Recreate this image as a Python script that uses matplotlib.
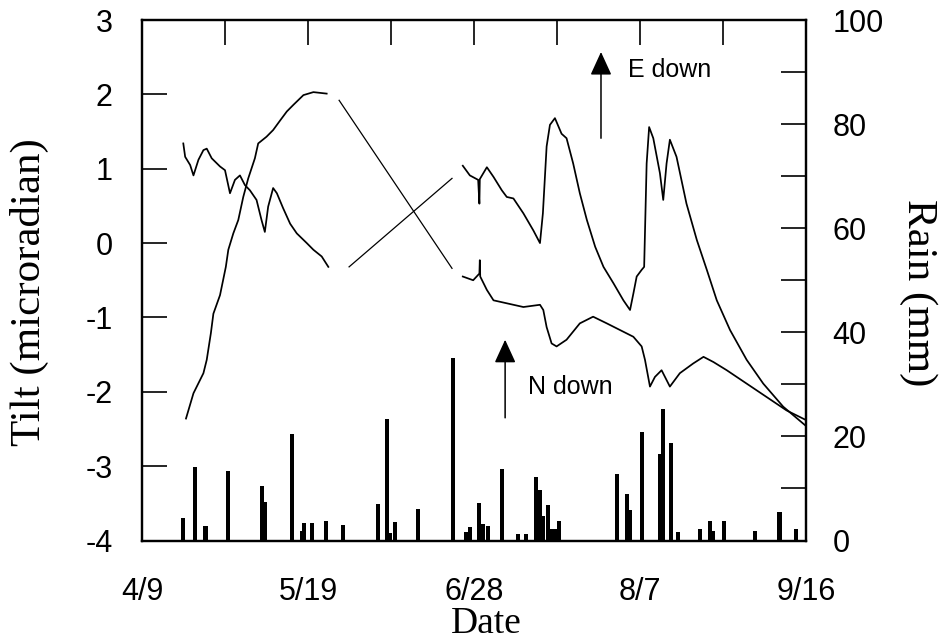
import matplotlib.pyplot as plt

plt.rcParams["axes.unicode_minus"] = False

# Tage seit 4/9, Tilt in microradian
e_day_1 = [9.95, 10.4, 11.6, 12.4, 13.6, 14.8, 15.6, 16.8, 18.8, 20.0, 21.2,
           22.4, 23.6, 24.8, 26.0, 27.6, 28.8, 29.6, 30.4, 31.6, 32.5, 34.0,
           35.7, 37.3, 39.7, 41.3, 43.3, 44.9]
e_tilt_1 = [1.34, 1.16, 1.05, 0.91, 1.12, 1.25, 1.27, 1.14, 1.03, 0.98, 0.67,
            0.85, 0.91, 0.78, 0.71, 0.58, 0.31, 0.15, 0.49, 0.74, 0.67, 0.47,
            0.26, 0.13, 0.0, -0.09, -0.18, -0.32]

e_day_2 = [77.3, 79.0, 81.0, 81.3, 81.4, 83.1, 84.7, 86.7, 87.9, 89.5, 91.9,
           94.3, 95.9, 96.6, 97.5, 98.3, 99.5, 101.1, 102.3, 103.9, 105.5,
           107.2, 109.2, 111.2, 113.6, 116.0, 117.6, 118.4, 119.2, 120.4,
           121.0, 121.6, 122.2, 123.2, 124.8, 125.6, 126.4, 127.2, 128.8,
           131.2, 133.7, 136.1, 138.5, 141.7, 145.7, 149.7, 154.5, 160.0]
e_tilt_2 = [1.04, 0.91, 0.85, 0.53, 0.86, 1.02, 0.89, 0.71, 0.62, 0.60, 0.40,
            0.17, 0.0, 0.40, 1.30, 1.59, 1.68, 1.47, 1.41, 1.07, 0.67,
            0.31, -0.05, -0.32, -0.54, -0.77, -0.90, -0.68, -0.45, -0.36,
            -0.32, 1.07, 1.56, 1.41, 0.94, 0.58, 1.07, 1.39, 1.16,
            0.53, 0.04, -0.36, -0.77, -1.17, -1.57, -1.89, -2.20, -2.46]

n_day_1 = [10.6, 12.4, 14.8, 15.6, 16.6, 17.2, 18.8, 20.2, 20.8, 22.0, 23.2,
           24.4, 25.6, 27.2, 28.0, 30.0, 31.6, 33.3, 34.9, 36.5, 38.9, 41.3,
           44.5]
n_tilt_1 = [-2.36, -2.02, -1.75, -1.57, -1.21, -0.95, -0.70, -0.32, -0.09,
            0.13, 0.31, 0.62, 0.87, 1.14, 1.34, 1.43, 1.52, 1.65, 1.77, 1.86,
            1.99, 2.03, 2.01]

n_day_2 = [77.3, 79.8, 81.3, 81.4, 81.5, 83.1, 84.7, 87.9, 91.9, 95.9, 96.7,
           97.5, 98.7, 99.9, 102.3, 105.5, 108.7, 112.0, 115.2, 118.4, 120.4,
           121.2, 122.4, 123.6, 125.2, 127.2, 129.6, 132.8, 135.3, 137.7,
           140.9, 145.7, 150.5, 155.3, 160.0]
n_tilt_2 = [-0.45, -0.50, -0.41, -0.23, -0.45, -0.63, -0.77, -0.81, -0.86,
            -0.83, -0.90, -1.13, -1.35, -1.39, -1.30, -1.08, -0.99, -1.08,
            -1.17, -1.26, -1.39, -1.57, -1.93, -1.80, -1.71, -1.93, -1.75,
            -1.62, -1.53, -1.60, -1.71, -1.89, -2.07, -2.25, -2.38]

# Verbindungslinien ueber die Datenluecke
bridge_e_day = [49.9, 74.7]
bridge_e_tilt = [-0.32, 0.87]
bridge_n_day = [47.5, 74.7]
bridge_n_tilt = [1.92, -0.34]

# Niederschlag (mm)
rain_day = [9.8, 12.7, 15.3, 20.7, 29.0, 29.7, 36.2, 38.5, 39.0, 41.0, 44.4,
            48.4, 56.9, 59.1, 59.8, 60.9, 66.5, 74.9, 78.2, 79.0, 81.2, 82.1,
            83.4, 86.7, 90.5, 92.6, 94.9, 95.9, 96.7, 97.8, 98.8, 99.6,
            100.5, 114.5, 116.9, 117.6, 120.4, 124.8, 125.5, 127.5, 129.1,
            134.4, 136.8, 137.5, 140.3, 147.8, 153.6, 157.5]
rain_mm = [4.3, 14.2, 2.8, 13.3, 10.4, 7.4, 20.4, 1.9, 3.4, 3.4, 3.8,
           2.9, 7.0, 23.4, 1.4, 3.5, 6.0, 35.1, 1.6, 2.6, 7.2, 3.2,
           2.7, 13.7, 1.3, 1.3, 12.2, 9.7, 4.7, 6.8, 2.2, 2.2,
           3.7, 12.8, 8.9, 5.8, 20.8, 16.7, 25.3, 18.7, 1.7,
           2.3, 3.8, 1.9, 3.8, 1.9, 5.4, 2.3]

date_ticks = [0, 40, 80, 120, 160]
date_labels = ["4/9", "5/19", "6/28", "8/7", "9/16"]

sans = "Liberation Sans"
serif = "Liberation Serif"

fig = plt.figure(figsize=(9.51, 6.41), dpi=100)
ax = fig.add_axes([142 / 951, 1 - 540.5 / 641, 664 / 951, 520.5 / 641])
ax2 = ax.twinx()

ax2.bar(rain_day, rain_mm, width=1.0, color="black", align="center")
ax2.set_ylim(0, 100)

for d, t in [(e_day_1, e_tilt_1), (e_day_2, e_tilt_2),
             (n_day_1, n_tilt_1), (n_day_2, n_tilt_2)]:
    ax.plot(d, t, color="black", lw=1.25)
ax.plot(bridge_e_day, bridge_e_tilt, color="black", lw=0.9)
ax.plot(bridge_n_day, bridge_n_tilt, color="black", lw=0.9)

ax.set_xlim(0, 160)
ax.set_ylim(-4, 3)
ax.set_xticks(date_ticks)
ax.set_xticklabels(date_labels)
ax.set_xticks([20, 60, 100, 140], minor=True)
ax.set_yticks(range(-4, 4))

ax.tick_params(axis="x", which="both", direction="in", length=18, width=1.2,
               bottom=False, top=True, pad=26, labelsize=22)
ax.tick_params(axis="y", direction="in", length=18, width=1.2,
               left=True, right=False, pad=21, labelsize=22)
ax2.set_yticks([0, 20, 40, 60, 80, 100])
ax2.set_yticks([10, 30, 50, 70, 90], minor=True)
ax2.tick_params(axis="y", which="both", direction="in", length=18, width=1.2,
                pad=19, labelsize=22)

for a in (ax, ax2):
    for lab in a.get_xticklabels() + a.get_yticklabels():
        lab.set_fontfamily(sans)
    for sp in a.spines.values():
        sp.set_linewidth(1.6)

ax.text(-0.169, 0.478, "Tilt (microradian)", transform=ax.transAxes,
        rotation=90, ha="center", va="center", fontsize=31, family=serif)
ax.text(1.169, 0.476, "Rain (mm)", transform=ax.transAxes,
        rotation=-90, ha="center", va="center", fontsize=31, family=serif)
ax.text(0.518, -0.1777, "Date", transform=ax.transAxes,
        ha="center", va="baseline", fontsize=27, family=serif)

arrow = dict(arrowstyle="-|>,head_length=0.72,head_width=0.33",
             color="black", lw=1.1, mutation_scale=20, shrinkA=0, shrinkB=0)
ax.annotate("", xy=(87.5, -1.30), xytext=(87.5, -2.35), arrowprops=arrow)
ax.annotate("", xy=(110.6, 2.57), xytext=(110.6, 1.41), arrowprops=arrow)
ax.text(93, -1.94, "N down", fontsize=18, family=sans, va="center")
ax.text(117, 2.33, "E down", fontsize=18, family=sans, va="center")

fig.savefig("out.png", dpi=100)
